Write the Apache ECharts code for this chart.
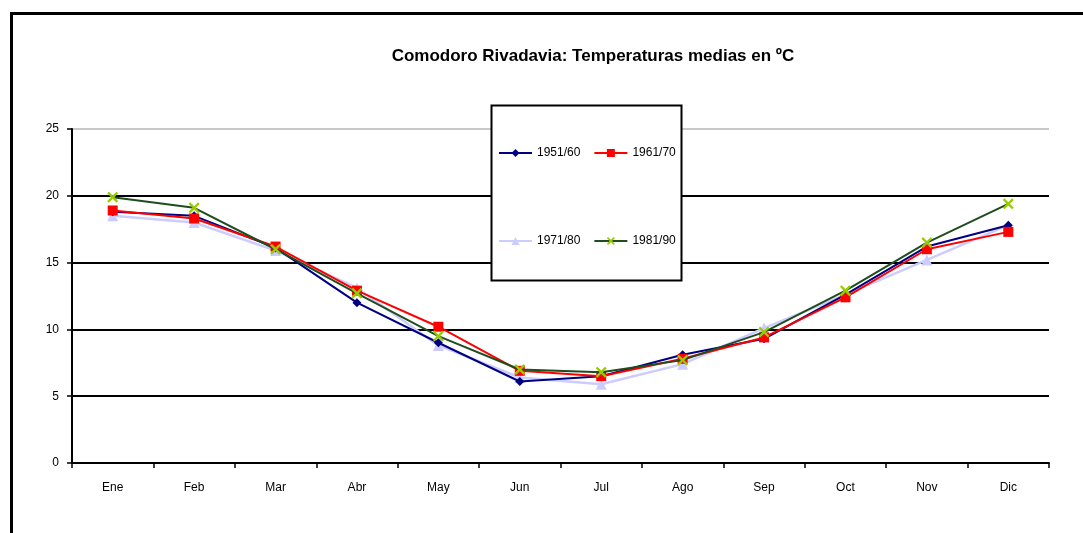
<!DOCTYPE html>
<html>
<head>
<meta charset="utf-8">
<script src="https://cdn.jsdelivr.net/npm/echarts@6/dist/echarts.min.js"></script>
<style>
html,body{margin:0;padding:0;background:#fff;}
#chart{width:1083px;height:533px;}
</style>
</head>
<body>
<div id="chart"></div>
<script>
const months = ['Ene','Feb','Mar','Abr','May','Jun','Jul','Ago','Sep','Oct','Nov','Dic'];
const s1951 = [18.8, 18.5, 16.1, 12.0, 9.0, 6.1, 6.5, 8.1, 9.3, 12.6, 16.2, 17.8];
const s1961 = [18.9, 18.3, 16.2, 12.9, 10.2, 6.9, 6.5, 7.8, 9.4, 12.4, 16.0, 17.3];
const s1971 = [18.5, 18.0, 15.9, 13.1, 8.8, 6.4, 5.9, 7.4, 10.1, 12.6, 15.2, 17.8];
const s1981 = [19.9, 19.1, 16.0, 12.7, 9.5, 7.0, 6.8, 7.7, 9.8, 12.9, 16.5, 19.4];
const yTicks = [0, 5, 10, 15, 20, 25];
const seriesNames = ['1951/60', '1961/70', '1971/80', '1981/90'];
const titleText = 'Comodoro Rivadavia: Temperaturas medias en ºC';

const xSymbol = 'path://M0,1.5L1.5,0L5,3.5L8.5,0L10,1.5L6.5,5L10,8.5L8.5,10L5,6.5L1.5,10L0,8.5L3.5,5Z';
const font = 'Liberation Sans, Arial, sans-serif';

const chart = echarts.init(document.getElementById('chart'), null, {renderer: 'canvas'});
const legendText = {fontFamily: font, fontSize: 12, color: '#000'};
chart.setOption({
  backgroundColor: '#fff',
  animation: false,
  title: {
    text: titleText,
    left: 588, top: 43, textAlign: 'center',
    textStyle: {fontFamily: font, fontSize: 17, fontWeight: 'bold', color: '#000'}
  },
  graphic: [
    {type: 'rect', shape: {x: 11.5, y: 13.5, width: 1100, height: 540}, style: {fill: null, stroke: '#000', lineWidth: 3}, z: 100},
    {type: 'rect', shape: {x: 491.5, y: 105.5, width: 190, height: 175}, style: {fill: '#fff', stroke: '#000', lineWidth: 2}, z: 50}
  ],
  legend: [
    {data: [seriesNames[0], seriesNames[1]], left: 493, top: 142, itemWidth: 33, itemHeight: 10, itemGap: 13, textStyle: legendText, z: 60},
    {data: [seriesNames[2], seriesNames[3]], left: 493, top: 230, itemWidth: 33, itemHeight: 10, itemGap: 13, textStyle: legendText, z: 60}
  ],
  grid: {left: 72, right: 34, top: 129, bottom: 70, containLabel: false},
  xAxis: {
    type: 'category', data: months, boundaryGap: true,
    axisLine: {lineStyle: {color: '#000', width: 2}},
    axisTick: {show: true, length: 5, lineStyle: {color: '#000', width: 1.5}},
    axisLabel: {fontFamily: font, fontSize: 12, color: '#000', margin: 19}
  },
  yAxis: {
    type: 'value', min: yTicks[0], max: yTicks[yTicks.length - 1], interval: 5,
    axisLine: {show: true, lineStyle: {color: '#000', width: 2}},
    axisTick: {show: true, length: 5, lineStyle: {color: '#000', width: 1.5}},
    axisLabel: {fontFamily: font, fontSize: 12, color: '#000', margin: 13},
    splitLine: {show: true, lineStyle: {color: ['#000', '#000', '#000', '#000', '#000', '#c8c8c8'], width: 2}}
  },
  series: [
    {name: seriesNames[0], type: 'line', data: s1951, symbol: 'diamond', symbolSize: 9,
      lineStyle: {color: '#000080', width: 2}, itemStyle: {color: '#000080'}, z: 3},
    {name: seriesNames[1], type: 'line', data: s1961, symbol: 'rect', symbolSize: 10,
      lineStyle: {color: '#ff0000', width: 2}, itemStyle: {color: '#ff0000'}, z: 4},
    {name: seriesNames[2], type: 'line', data: s1971, symbol: 'triangle', symbolSize: 11,
      lineStyle: {color: '#ccccff', width: 2.5}, itemStyle: {color: '#ccccff'}, z: 2},
    {name: seriesNames[3], type: 'line', data: s1981, symbol: xSymbol, symbolSize: 11,
      lineStyle: {color: '#1e4d1e', width: 2}, itemStyle: {color: '#99cc00'}, z: 5}
  ]
});
</script>
</body>
</html>
